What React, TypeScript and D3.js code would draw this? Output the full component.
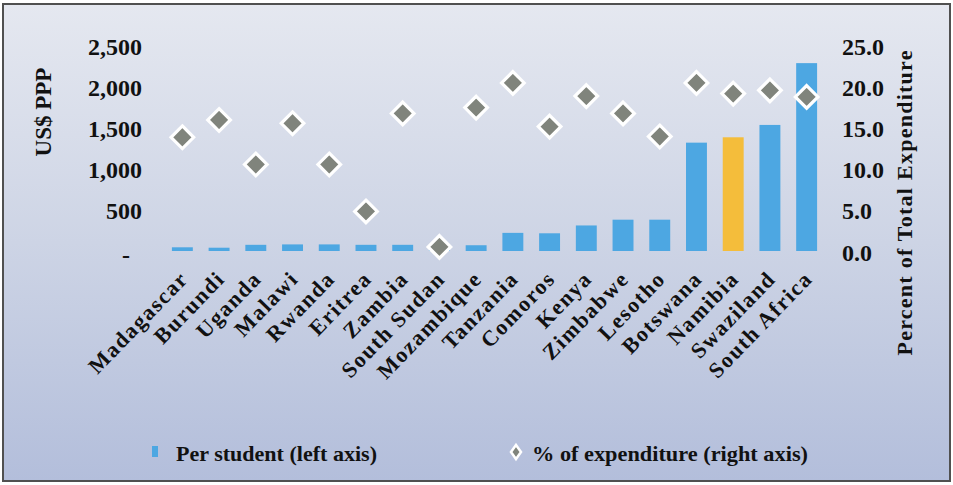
import React from "react";
import * as d3 from "d3";

const countries = [
  "Madagascar", "Burundi", "Uganda", "Malawi", "Rwanda", "Eritrea", "Zambia",
  "South Sudan", "Mozambique", "Tanzania", "Comoros", "Kenya", "Zimbabwe",
  "Lesotho", "Botswana", "Namibia", "Swaziland", "South Africa",
];
const perStudent = [45, 40, 75, 80, 80, 75, 75, 60, 70, 220, 215, 310, 380, 380, 1315, 1380, 1530, 2280];
const pctExpenditure = [13.8, 15.9, 10.5, 15.5, 10.5, 4.8, 16.7, 0.5, 17.4, 20.4, 15.1, 18.8, 16.7, 13.9, 20.4, 19.1, 19.5, 18.7];
const highlighted = ["Namibia"];
const leftTicks = [0, 500, 1000, 1500, 2000, 2500];
const leftTickLabels = ["-", "500", "1,000", "1,500", "2,000", "2,500"];
const rightTicks = [0, 5, 10, 15, 20, 25];
const rightTickLabels = ["0.0", "5.0", "10.0", "15.0", "20.0", "25.0"];
const legendLabels = ["Per student (left axis)", "% of expenditure (right axis)"];
const leftTitle = "US$ PPP";
const rightTitle = "Percent of Total Expenditure";

const W = 953;
const H = 485;
const FONT = "'Liberation Serif', 'Times New Roman', serif";
const BLUE = "#4ea7e2";
const GOLD = "#f4bd3a";
const GRAY = "#80847c";

export default function App() {
  const x = d3.scaleBand<string>().domain(countries).range([164, 825]).paddingInner(0.43).paddingOuter(0.215);
  const yL = d3.scaleLinear().domain([0, 2500]).range([251, 45]);
  const yR = d3.scaleLinear().domain([0, 25]).range([251, 45]);
  const bw = x.bandwidth();
  const cx = (c: string) => (x(c) as number) + bw / 2;
  const diamond = (px: number, py: number, r: number, ry?: number) => {
    const p = d3.path();
    const rv = ry ?? r;
    p.moveTo(px, py - rv);
    p.lineTo(px + r, py);
    p.lineTo(px, py + rv);
    p.lineTo(px - r, py);
    p.closePath();
    return p.toString();
  };

  return (
    <svg width={W} height={H} style={{ position: "absolute", left: 0, top: 0 }} fontFamily={FONT}>
      <defs>
        <linearGradient id="bg" x1="0" y1="0" x2="0" y2="1">
          <stop offset="0" stopColor="#e5e8f0" />
          <stop offset="0.5" stopColor="#cdd4e5" />
          <stop offset="1" stopColor="#b3bedb" />
        </linearGradient>
        <filter id="soft" x="-20%" y="-20%" width="140%" height="140%">
          <feGaussianBlur stdDeviation="0.6" />
        </filter>
      </defs>
      <rect x={0} y={0} width={W} height={H} fill="#ffffff" />
      <rect x={3} y={4} width={947} height={477} fill="url(#bg)" stroke="#505050" strokeWidth={2} />

      {/* bars */}
      <g filter="url(#soft)">
        {countries.map((c, i) => (
          <rect
            key={c}
            x={x(c)}
            y={yL(perStudent[i])}
            width={bw}
            height={yL(0) - yL(perStudent[i])}
            fill={highlighted.includes(c) ? GOLD : BLUE}
          />
        ))}
      </g>

      {/* diamonds */}
      <g filter="url(#soft)">
        {countries.map((c, i) => (
          <path
            key={c}
            d={diamond(cx(c), yR(pctExpenditure[i]), 11.3)}
            fill={GRAY}
            stroke="#ffffff"
            strokeWidth={3.2}
            strokeLinejoin="miter"
          />
        ))}
      </g>

      {/* left ticks */}
      {leftTicks.map((t, i) =>
        t === 0 ? (
          <text key={t} x={126} y={yL(t) + 6} textAnchor="middle" dominantBaseline="middle" fontSize={24} fontWeight="bold" fill="#111">
            {leftTickLabels[i]}
          </text>
        ) : (
          <text key={t} x={142} y={yL(t) + 4} textAnchor="end" dominantBaseline="middle" fontSize={24} fontWeight="bold" fill="#111">
            {leftTickLabels[i]}
          </text>
        )
      )}

      {/* right ticks */}
      {rightTicks.map((t, i) => (
        <text key={t} x={842} y={yR(t) + 4} textAnchor="start" dominantBaseline="middle" fontSize={24} fontWeight="bold" fill="#111">
          {rightTickLabels[i]}
        </text>
      ))}

      {/* axis titles */}
      <text
        transform={`translate(46,112) rotate(-90)`}
        textAnchor="middle"
        dominantBaseline="middle"
        fontSize={23}
        fontWeight="bold"
        fill="#111"
      >
        {leftTitle}
      </text>
      <text
        transform={`translate(907,203) rotate(-90)`}
        textAnchor="middle"
        dominantBaseline="middle"
        fontSize={22}
        fontWeight="bold"
        fill="#111"
        textLength={305}
        lengthAdjust="spacing"
      >
        {rightTitle}
      </text>

      {/* category labels */}
      {countries.map((c) => (
        <text
          key={c}
          transform={`translate(${cx(c) + 7},${280}) rotate(-46)`}
          textAnchor="end"
          fontSize={22}
          fontWeight="bold"
          letterSpacing={1.6}
          fill="#111"
        >
          {c}
        </text>
      ))}

      {/* legend */}
      <rect x={152} y={446} width={6} height={11} fill={BLUE} filter="url(#soft)" />
      <text x={176} y={461} fontSize={22} fontWeight="bold" fill="#111" textLength={201} lengthAdjust="spacingAndGlyphs">
        {legendLabels[0]}
      </text>
      <path d={diamond(516, 452, 5, 7)} fill={GRAY} stroke="#ffffff" strokeWidth={2.5} filter="url(#soft)" />
      <text x={532} y={461} fontSize={22} fontWeight="bold" fill="#111" textLength={276} lengthAdjust="spacingAndGlyphs">
        {legendLabels[1]}
      </text>
    </svg>
  );
}
